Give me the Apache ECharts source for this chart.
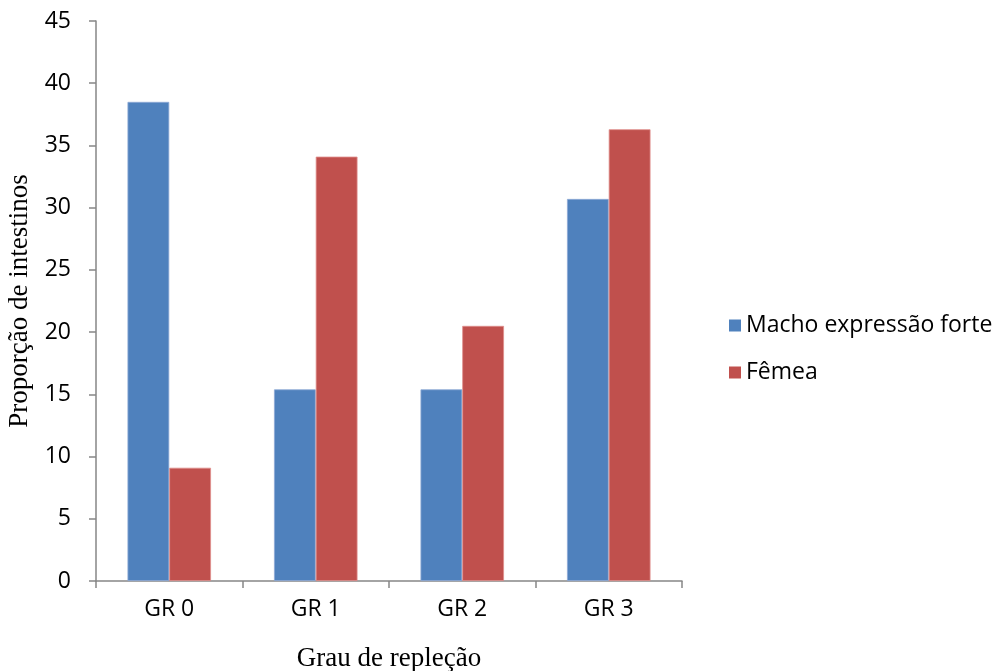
<!DOCTYPE html>
<html><head><meta charset="utf-8">
<script src="https://cdn.jsdelivr.net/npm/echarts@6/dist/echarts.min.js"></script>
<style>html,body{margin:0;padding:0;background:#fff}#c{width:998px;height:671px}</style>
</head><body><div id="c"></div>
<script>
const categories = ['GR 0', 'GR 1', 'GR 2', 'GR 3'];
const seriesNames = ['Macho expressão forte', 'Fêmea'];
const machoValues = [38.5, 15.4, 15.4, 30.7];
const femeaValues = [9.1, 34.1, 20.5, 36.3];
const yTicks = { min: 0, max: 45, interval: 5 };

const chart = echarts.init(document.getElementById('c'));
const sans = '"Open Sans", "Liberation Sans", sans-serif';
const serif = '"Liberation Serif", "DejaVu Serif", serif';
chart.setOption({
  animation: false,
  grid: { left: 96, right: 316, top: 21, bottom: 90, containLabel: false, outerBoundsMode: 'none' },
  legend: {
    orient: 'vertical', left: 724, top: 309, itemWidth: 12, itemHeight: 12, itemGap: 24,
    icon: 'rect',
    itemStyle: { borderWidth: 0 },
    textStyle: { fontFamily: sans, fontSize: 23, color: '#000' },
    data: seriesNames
  },
  xAxis: {
    type: 'category', data: categories,
    name: 'Grau de repleção', nameLocation: 'middle', nameGap: 64,
    nameTextStyle: { fontFamily: serif, fontSize: 27, color: '#000' },
    axisLine: { lineStyle: { color: '#868686', width: 1.5 } },
    axisTick: { show: true, length: 7, lineStyle: { color: '#868686', width: 1.5 } },
    axisLabel: { fontFamily: sans, fontSize: 23, color: '#000', margin: 17 }
  },
  yAxis: {
    type: 'value', min: yTicks.min, max: yTicks.max, interval: yTicks.interval,
    name: 'Proporção de intestinos', nameLocation: 'middle', nameGap: 62, nameRotate: 90,
    nameTextStyle: { fontFamily: serif, fontSize: 27, color: '#000' },
    axisLine: { show: true, lineStyle: { color: '#868686', width: 1.5 } },
    axisTick: { show: true, length: 7, lineStyle: { color: '#868686', width: 1.5 } },
    splitLine: { show: false },
    axisLabel: { fontFamily: sans, fontSize: 23, color: '#000', margin: 25 }
  },
  series: [
    { name: seriesNames[0], type: 'bar', data: machoValues, barGap: '0%', barCategoryGap: '43%',
      itemStyle: { color: '#4F81BD', borderColor: '#8EA9D6', borderWidth: 0.8 } },
    { name: seriesNames[1], type: 'bar', data: femeaValues,
      itemStyle: { color: '#C0504D', borderColor: '#E08E8C', borderWidth: 0.8 } }
  ]
});
</script></body></html>
